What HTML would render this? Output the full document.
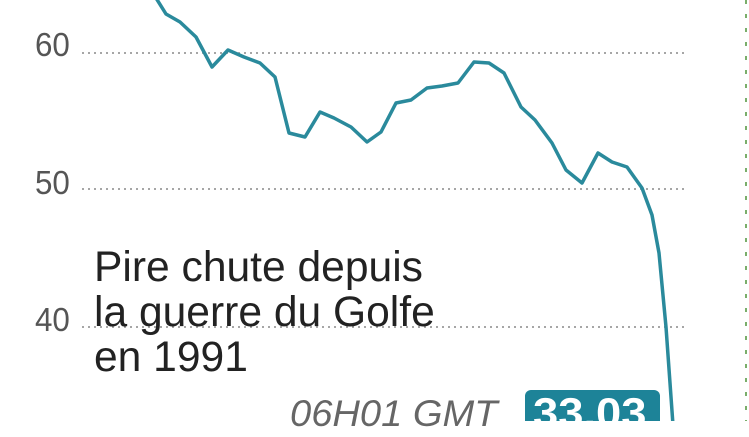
<!DOCTYPE html>
<html><head><meta charset="utf-8"><style>
body{margin:0;width:749px;height:421px;overflow:hidden;background:#fff;position:relative;font-family:"Liberation Sans",sans-serif}
.t{position:absolute;white-space:nowrap;transform-origin:0 0}
</style></head><body>
<svg width="749" height="421" style="position:absolute;left:0;top:0">
<g stroke="#888" stroke-width="1.5" stroke-dasharray="2,4">
<line x1="82" y1="53" x2="684" y2="53"/>
<line x1="82" y1="189" x2="684" y2="189"/>
<line x1="82" y1="327" x2="684" y2="327"/>
</g>
<line x1="746" y1="0" x2="746" y2="421" stroke="#7aae6a" stroke-width="2" stroke-dasharray="4,10"/>
<polyline fill="none" stroke="#2a8a9c" stroke-width="3.5" stroke-linejoin="round" points="156,-2 166,14 180,22 196,37 212,67 228,50 244,57 260,63 275,77 289,133 305,137 320,112 334,118 351,127 367,142 381,132 396,103 411,100 427,88 442,86 458,83 474,62 489,63 504,73 521,107 535,120 552,143 566,170 582,183 598,153 612,162 627,167 642,188 652,215 659,253 666,327 673,425"/>
<rect x="525" y="390" width="135" height="40" rx="6" fill="#1d8398"/>
</svg>
<div class="t" style="left:35px;top:26px;font-size:33px;color:#555;transform:scaleX(0.95)">60</div>
<div class="t" style="left:35px;top:164px;font-size:33px;color:#555;transform:scaleX(0.95)">50</div>
<div class="t" style="left:35px;top:301px;font-size:33px;color:#555;transform:scaleX(0.95)">40</div>
<div class="t" style="left:94px;top:245px;font-size:43px;line-height:45px;color:#222;transform:scaleX(0.99)">Pire chute depuis<br>la guerre du Golfe<br>en 1991</div>
<div class="t" style="left:290px;top:393px;font-size:37px;font-style:italic;color:#666;transform:scaleX(1.03)">06H01 GMT</div>
<div class="t" style="left:533px;top:389px;font-size:42px;font-weight:bold;color:#fff;transform:scaleX(1.08)">33.03</div>
</body></html>
